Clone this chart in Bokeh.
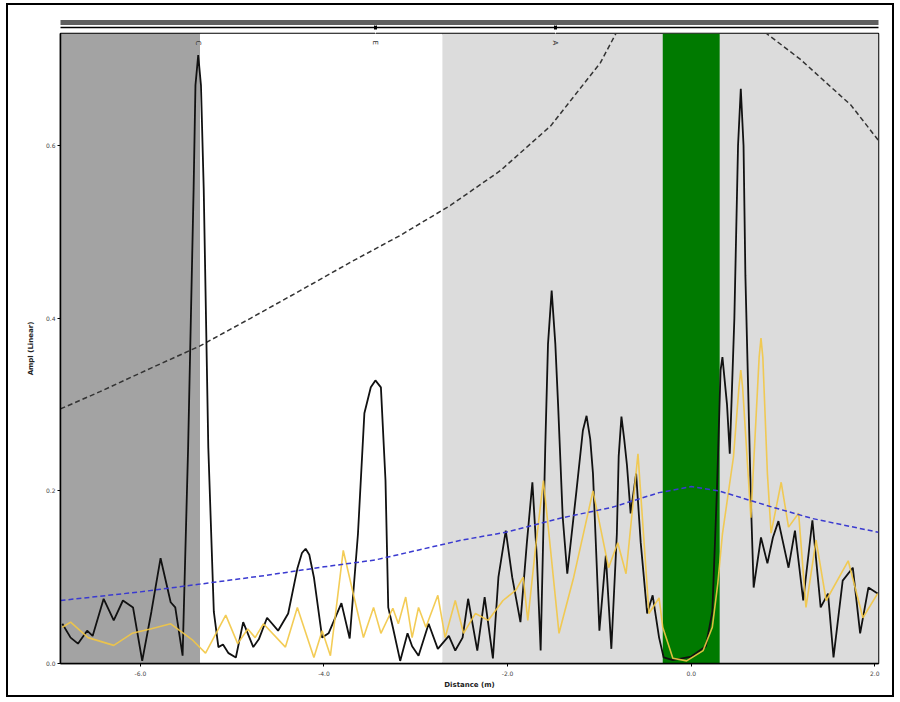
import math
from bokeh.plotting import figure
from bokeh.models import (LinearAxis, FixedTicker, Range1d, Label, BoxAnnotation,
                          NumeralTickFormatter)
from bokeh.embed import file_html
from bokeh.resources import INLINE

# ---------------- data ----------------
x_range = (-6.87, 2.04)
y_range = (0.0, 0.73)

# background zones (distance, m)
zone_left = [-6.87, -5.35, -2.71, -0.31]
zone_right = [-5.35, -2.71, 2.04, 0.31]
zone_color = ["#a3a3a3", "#ffffff", "#dcdcdc", "#007a00"]

# measured amplitude (black)
black_x = [-6.85, -6.76, -6.68, -6.58, -6.52, -6.40, -6.29, -6.19, -6.08, -5.98,
           -5.88, -5.78, -5.67, -5.62, -5.54, -5.48, -5.42, -5.40, -5.37, -5.34,
           -5.31, -5.26, -5.20, -5.15, -5.10, -5.04, -4.96, -4.88, -4.77, -4.71,
           -4.62, -4.50, -4.39, -4.29, -4.24, -4.20, -4.16, -4.11, -4.02, -3.95,
           -3.81, -3.72, -3.63, -3.56, -3.49, -3.44, -3.38, -3.33, -3.30, -3.25,
           -3.17, -3.09, -3.04, -2.97, -2.86, -2.76, -2.64, -2.57, -2.49, -2.43,
           -2.33, -2.25, -2.16, -2.10, -2.02, -1.95, -1.86, -1.79, -1.73, -1.68,
           -1.64, -1.59, -1.56, -1.52, -1.48, -1.45, -1.40, -1.35, -1.25, -1.18,
           -1.14, -1.10, -1.07, -1.00, -0.93, -0.87, -0.81, -0.79, -0.76, -0.73,
           -0.70, -0.66, -0.60, -0.55, -0.48, -0.42, -0.35, -0.30, -0.20, 0.00,
           0.16, 0.23, 0.28, 0.32, 0.34, 0.39, 0.42, 0.47, 0.51, 0.54,
           0.57, 0.59, 0.65, 0.68, 0.76, 0.83, 0.89, 0.95, 1.06, 1.13,
           1.22, 1.32, 1.41, 1.49, 1.55, 1.65, 1.76, 1.84, 1.93, 2.03]
black_y = [0.046, 0.030, 0.023, 0.038, 0.032, 0.075, 0.050, 0.073, 0.065, 0.003,
           0.060, 0.122, 0.071, 0.065, 0.009, 0.250, 0.550, 0.670, 0.705, 0.670,
           0.550, 0.250, 0.060, 0.019, 0.022, 0.012, 0.007, 0.048, 0.019, 0.028,
           0.053, 0.038, 0.058, 0.110, 0.128, 0.133, 0.126, 0.100, 0.030, 0.035,
           0.070, 0.029, 0.150, 0.290, 0.320, 0.328, 0.320, 0.212, 0.065, 0.042,
           0.003, 0.035, 0.020, 0.009, 0.046, 0.017, 0.032, 0.015, 0.030, 0.075,
           0.015, 0.077, 0.006, 0.100, 0.154, 0.100, 0.048, 0.140, 0.210, 0.120,
           0.015, 0.250, 0.370, 0.432, 0.370, 0.300, 0.170, 0.104, 0.200, 0.270,
           0.287, 0.260, 0.220, 0.038, 0.125, 0.017, 0.150, 0.240, 0.286, 0.260,
           0.230, 0.174, 0.220, 0.140, 0.058, 0.079, 0.030, 0.007, 0.004, 0.008,
           0.020, 0.060, 0.200, 0.340, 0.355, 0.300, 0.243, 0.400, 0.600, 0.666,
           0.600, 0.450, 0.189, 0.088, 0.146, 0.116, 0.146, 0.165, 0.111, 0.154,
           0.073, 0.166, 0.065, 0.081, 0.007, 0.096, 0.111, 0.035, 0.088, 0.081]

# second trace (yellow)
yellow_x = [-6.85, -6.76, -6.57, -6.29, -6.09, -5.89, -5.67, -5.43, -5.29, -5.07,
            -4.94, -4.83, -4.75, -4.66, -4.42, -4.29, -4.11, -4.02, -3.93, -3.79,
            -3.57, -3.46, -3.38, -3.25, -3.19, -3.11, -3.04, -2.97, -2.89, -2.76,
            -2.68, -2.57, -2.48, -2.35, -2.21, -2.05, -1.91, -1.83, -1.78, -1.70,
            -1.61, -1.54, -1.44, -1.28, -1.07, -0.90, -0.80, -0.71, -0.58, -0.46,
            -0.35, -0.31, -0.20, -0.05, 0.13, 0.23, 0.29, 0.34, 0.46, 0.52,
            0.54, 0.56, 0.65, 0.74, 0.76, 0.78, 0.83, 0.87, 0.98, 1.06,
            1.17, 1.25, 1.36, 1.47, 1.71, 1.87, 2.03]
yellow_y = [0.042, 0.048, 0.030, 0.021, 0.035, 0.040, 0.046, 0.027, 0.012, 0.056,
            0.023, 0.040, 0.030, 0.046, 0.019, 0.065, 0.007, 0.038, 0.009, 0.131,
            0.030, 0.065, 0.035, 0.064, 0.046, 0.077, 0.030, 0.065, 0.042, 0.079,
            0.030, 0.073, 0.035, 0.058, 0.050, 0.073, 0.085, 0.100, 0.050, 0.130,
            0.212, 0.140, 0.035, 0.100, 0.200, 0.111, 0.140, 0.104, 0.243, 0.058,
            0.076, 0.042, 0.006, 0.003, 0.015, 0.042, 0.093, 0.150, 0.239, 0.320,
            0.340, 0.320, 0.169, 0.355, 0.377, 0.355, 0.220, 0.151, 0.210, 0.158,
            0.174, 0.065, 0.143, 0.073, 0.119, 0.053, 0.081]

# blue dashed envelope
blue_x = [-6.87, -6.00, -5.35, -4.64, -4.00, -3.44, -2.50, -2.02, -1.40, -0.86,
          -0.35, 0.00, 0.30, 0.89, 1.32, 2.04]
blue_y = [0.073, 0.083, 0.092, 0.102, 0.112, 0.120, 0.143, 0.152, 0.169, 0.181,
          0.198, 0.205, 0.200, 0.181, 0.168, 0.152]

# black dashed envelope
env_x = [-6.87, -6.44, -5.89, -5.35, -4.80, -4.26, -3.71, -3.17, -2.62, -2.08,
         -1.53, -0.99, -0.82, 0.00, 0.82, 1.19, 1.74, 2.04]
env_y = [0.295, 0.315, 0.342, 0.368, 0.400, 0.432, 0.465, 0.496, 0.531, 0.571,
         0.623, 0.696, 0.730, 0.850, 0.730, 0.700, 0.647, 0.606]

x_ticks = [-6, -4, -2, 0, 2]
y_ticks = [0.0, 0.2, 0.4, 0.6]

marker_x = [-5.37, -3.44, -1.48]
marker_text = ["C", "E", "A"]
top_ticks = [-3.44, -1.48]

# ---------------- figure ----------------
p = figure(width=884, height=690, margin=(5, 0, 0, 8),
           x_range=Range1d(*x_range), y_range=Range1d(*y_range),
           output_backend="svg", toolbar_location=None,
           min_border_left=52, min_border_right=14, min_border_top=28,
           min_border_bottom=32, background_fill_color="white",
           styles={"outline": "2px solid black"})
p.xgrid.visible = False
p.ygrid.visible = False
p.outline_line_color = "black"
p.outline_line_width = 1.5

for l, r, c in zip(zone_left, zone_right, zone_color):
    p.add_layout(BoxAnnotation(left=l, right=r, fill_color=c, fill_alpha=1.0,
                               line_color=None, level="underlay"))

p.line(env_x, env_y, line_color="#333333", line_width=1.5, line_dash="5 3")
p.line(black_x, black_y, line_color="#111111", line_width=1.8)
p.line(yellow_x, yellow_y, line_color="#f2c744", line_width=1.6, line_alpha=0.9)
p.line(blue_x, blue_y, line_color="#3a3ad0", line_width=1.5, line_dash="5 3")

for ax in (p.xaxis[0], p.yaxis[0]):
    ax.axis_line_color = "black"
    ax.axis_line_width = 1.5
    ax.major_tick_out = 3
    ax.major_tick_in = 0
    ax.minor_tick_line_color = None
    ax.major_label_text_font_size = "6px"
    ax.major_label_text_color = "#444444"
    ax.major_label_text_font = "DejaVu Sans"
    ax.axis_label_text_font_size = "7px"
    ax.axis_label_text_font = "DejaVu Sans"
    ax.axis_label_text_font_style = "bold"
    ax.axis_label_text_color = "#222222"
    ax.formatter = NumeralTickFormatter(format="0.0")

p.xaxis[0].ticker = FixedTicker(ticks=x_ticks)
p.yaxis[0].ticker = FixedTicker(ticks=y_ticks)
p.xaxis[0].axis_label = "Distance (m)"
p.yaxis[0].axis_label = "Ampl (Linear)"
p.xaxis[0].major_label_standoff = 4
p.xaxis[0].axis_label_standoff = 2
p.yaxis[0].major_label_standoff = 2
p.yaxis[0].axis_label_standoff = 8


def spacer_axis(size):
    return LinearAxis(ticker=FixedTicker(ticks=top_ticks), axis_line_color=None,
                      major_tick_line_color="white", minor_tick_line_color=None,
                      major_label_text_font_size="1px", major_label_text_color=None,
                      major_tick_out=size, major_tick_in=0, major_label_standoff=0)


# top banner: spacer, black marker line, spacer, grey band
marker_axis = LinearAxis(ticker=FixedTicker(ticks=top_ticks), axis_line_color="black",
                         axis_line_width=1.5, major_tick_line_color="black",
                         major_tick_line_width=3, major_tick_in=2, major_tick_out=2,
                         minor_tick_line_color=None, major_label_text_font_size="1px",
                         major_label_text_color=None, major_label_standoff=0)
band_axis = LinearAxis(ticker=FixedTicker(ticks=top_ticks), axis_line_color="#5e5e5e",
                       axis_line_width=5, major_tick_line_color=None,
                       minor_tick_line_color=None, major_label_text_font_size="1px",
                       major_label_text_color=None, major_tick_out=0,
                       major_label_standoff=0)
p.add_layout(spacer_axis(6), "above")
p.add_layout(marker_axis, "above")
p.add_layout(spacer_axis(3), "above")
p.add_layout(band_axis, "above")

for mx, mt in zip(marker_x, marker_text):
    p.add_layout(Label(x=mx, y=0.722, text=mt, angle=-math.pi / 2,
                       text_font_size="7px", text_color="#333333",
                       text_align="left", text_baseline="middle",
                       text_font="DejaVu Sans"))

open("out.html", "w").write(file_html(p, INLINE))
